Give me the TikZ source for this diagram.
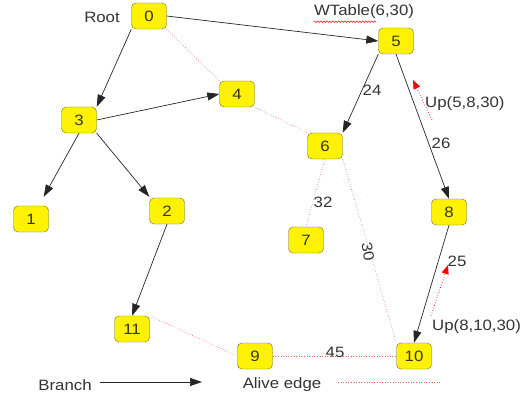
\documentclass[tikz,border=0pt]{standalone}
\usepackage{fontspec}
\setmainfont{Liberation Sans}[FakeStretch=1.12]
\usetikzlibrary{arrows.meta,decorations.pathmorphing}
\definecolor{txt}{HTML}{333333}
\definecolor{alive}{HTML}{FF5A5A}
\definecolor{boxline}{HTML}{6B6B3A}
\tikzset{
  vbox/.style={draw=boxline,fill=yellow,rounded corners=4.5pt,minimum width=35pt,
    minimum height=26pt,inner sep=0pt,text=txt,font=\fontsize{15}{17}\selectfont},
  lbl/.style={text=txt,inner sep=0pt,font=\fontsize{15}{17}\selectfont},
  branch/.style={draw=black!85,line width=0.7pt,-{Triangle[length=12pt,width=8pt]}},
  aliveedge/.style={draw=alive,line width=0.6pt,dotted},
  upmsg/.style={draw=red,line width=0.7pt,dotted,-{Triangle[length=9pt,width=7pt,fill=red]}}
}
\begin{document}
\begin{tikzpicture}[x=1pt,y=-1pt]
\useasboundingbox (0,0) rectangle (530,401);
% vertices
\node[vbox] (n0) at (149,16) {0};
\node[vbox] (n5) at (396,41) {5};
\node[vbox] (n4) at (237,94) {4};
\node[vbox] (n3) at (79,120) {3};
\node[vbox] (n6) at (325,146) {6};
\node[vbox] (n1) at (31,219) {1};
\node[vbox] (n2) at (167,211) {2};
\node[vbox] (n8) at (449,212) {8};
\node[vbox] (n7) at (306,240) {7};
\node[vbox] (n11) at (132,329) {11};
\node[vbox] (n9) at (255,356) {9};
\node[vbox] (n10) at (414,356) {10};
% annotations
\node[lbl] (root) at (102,17) {Root};
\node[lbl] (wtable) at (364,12) {WTable(6,30)};
\draw[red,line width=0.5pt,decorate,decoration={snake,amplitude=0.8pt,segment length=3pt}]
  (wtable.south west) ++(0,2.5) coordinate (wl) -- ++(62,0) coordinate (wr);
% branch edges
\draw[branch] (n0.east) -- (n5.west);
\draw[branch] (n0.south west) -- (n3.north east);
\draw[branch] (n3.east) -- (n4.west);
\draw[branch] (n3.south) -- ([shift={(-5,-9)}]n1.north east);
\draw[branch] (n3.south east) -- ([shift={(0,-1)}]n2.north west);
\draw[branch] (n2.south) -- (n11.north);
\draw[branch] (n5.south west) -- (n6.north east);
\draw[branch] (n5.south) -- (n8.north);
\draw[branch] (n8.south) -- (n10.north);
% alive edges
\draw[aliveedge] (n0.south east) -- (n4.north west);
\draw[aliveedge] (n4.south east) -- (n6.north west);
\draw[aliveedge] (n6.south) -- (n7.north);
\draw[aliveedge] (n6.south east) -- (n10.north west);
\draw[aliveedge] (n11.north east) -- (n9.west);
\draw[aliveedge] (n9.east) -- (n10.west);
% edge weights
\node[lbl] (w24) at (372,90) {24};
\node[lbl] (w26) at (441,143) {26};
\node[lbl] (w32) at (323,202) {32};
\node[lbl,rotate=-80] (w30) at (368,252) {30};
\node[lbl] (w25) at (457,261) {25};
\node[lbl] (w45) at (335,352) {45};
% update messages
\coordinate (u1a) at (432,120);
\coordinate (u1b) at (413,80);
\draw[upmsg] (u1a) -- (u1b);
\node[lbl,anchor=west] (up1) at (425,104) {Up(5,8,30)};
\coordinate (u2a) at (431,316);
\coordinate (u2b) at (448,265);
\draw[upmsg] (u2a) -- (u2b);
\node[lbl,anchor=west] (up2) at (432,327) {Up(8,10,30)};
% legend
\node[lbl] (lb) at (65,385) {Branch};
\coordinate (lba) at (100,382);
\coordinate (lbb) at (202,382);
\draw[branch] (lba) -- (lbb);
\node[lbl] (la) at (282,385) {Alive edge};
\coordinate (laa) at (338,382);
\coordinate (lab) at (442,382);
\draw[aliveedge] (laa) -- (lab);
\end{tikzpicture}
\end{document}
